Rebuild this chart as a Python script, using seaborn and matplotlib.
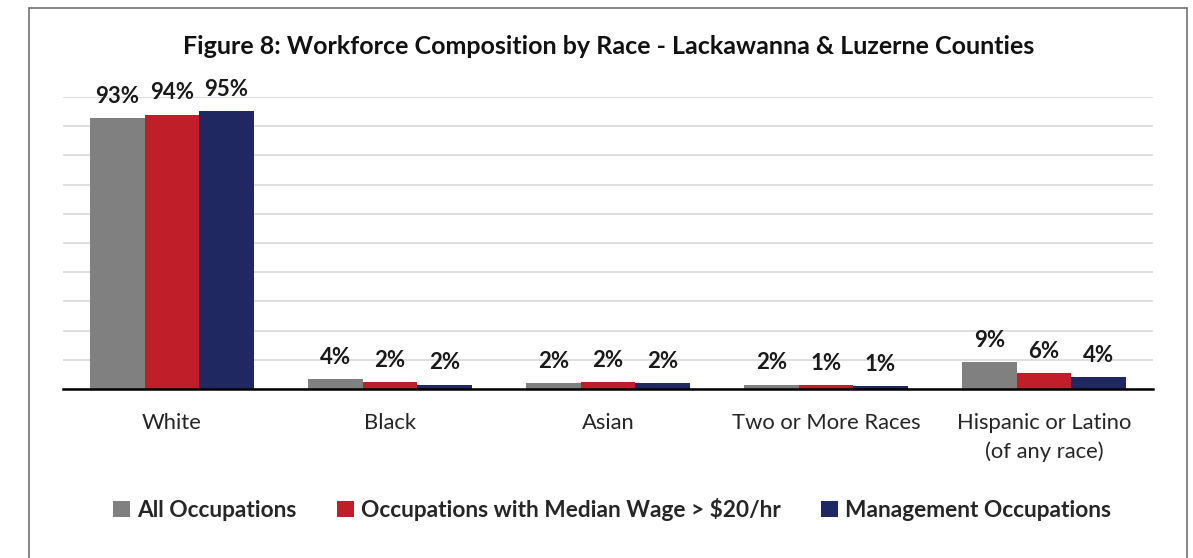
import pandas as pd
import matplotlib.pyplot as plt
import seaborn as sns
from matplotlib.patches import Rectangle

# Data
races = ['White', 'Black', 'Asian', 'Two or More Races', 'Hispanic or Latino\n(of any race)']
series = ['All Occupations', 'Occupations with Median Wage > $20/hr', 'Management Occupations']
all_occ = [0.928, 0.034, 0.019, 0.015, 0.092]
wage_occ = [0.940, 0.023, 0.024, 0.012, 0.056]
mgmt_occ = [0.952, 0.015, 0.020, 0.011, 0.040]
all_labels = ['93%', '4%', '2%', '2%', '9%']
wage_labels = ['94%', '2%', '2%', '1%', '6%']
mgmt_labels = ['95%', '2%', '2%', '1%', '4%']
colors = ['#808080', '#C01F2A', '#1F2860']

# Long format table for seaborn
rows = []
for name, vals in zip(series, [all_occ, wage_occ, mgmt_occ]):
    for race, v in zip(races, vals):
        rows.append({'Race': race, 'Series': name, 'Share': v})
df = pd.DataFrame(rows)

sns.set_style('white')
plt.rcParams['font.family'] = ['Lato', 'DejaVu Sans']

fig = plt.figure(figsize=(11.93, 5.58), dpi=100)
ax = fig.add_axes([0.0528, 0.3029, 0.9137, 0.5233])

sns.barplot(data=df, x='Race', y='Share', hue='Series', order=races, hue_order=series,
            palette=colors, width=0.75, saturation=1, linewidth=0, ax=ax, legend=True)

ax.set_ylim(0, 1.0)
ax.set_yticks([i / 10 for i in range(11)])
ax.set_yticklabels([])
ax.tick_params(axis='y', length=0)
ax.tick_params(axis='x', length=0, pad=17, labelsize=15.8, labelcolor='#262626')
for lbl in ax.get_xticklabels():
    lbl.set_linespacing(1.55)
ax.yaxis.grid(True, color='#D9D9D9', linewidth=1.2)
ax.set_axisbelow(True)
ax.set_xlabel('')
ax.set_ylabel('')
for s in ['top', 'right', 'left']:
    ax.spines[s].set_visible(False)
ax.spines['bottom'].set_color('black')
ax.spines['bottom'].set_linewidth(1.8)

# Value labels above each bar
for container, labels in zip(ax.containers, [all_labels, wage_labels, mgmt_labels]):
    for bar, text in zip(container, labels):
        ax.annotate(text, (bar.get_x() + bar.get_width() / 2, bar.get_height()),
                    xytext=(0, 8), textcoords='offset points', ha='center', va='bottom',
                    fontsize=16, fontweight='bold', color='#1a1a1a')

# Legend at the bottom with square markers
handles, labels = ax.get_legend_handles_labels()
ax.get_legend().remove()
fig.legend(handles, labels, loc='center', bbox_to_anchor=(0.513, 0.087), ncol=3,
           frameon=False, handlelength=0.75, handleheight=0.75, handletextpad=0.3,
           columnspacing=1.8, prop={'weight': 'bold', 'size': 16.3})

fig.text(0.510, 0.9158, 'Figure 8: Workforce Composition by Race - Lackawanna & Luzerne Counties',
         ha='center', va='center', fontsize=18, fontweight='bold', color='#111111')

# Chart frame
fig.patches.append(Rectangle((29 / 1193, -0.01), (1187 - 29) / 1193, 1 - 8 / 558 + 0.01,
                             transform=fig.transFigure, fill=False, edgecolor='#6F6F6F',
                             linewidth=1.2))

fig.savefig('out.png', dpi=100, facecolor='white')
